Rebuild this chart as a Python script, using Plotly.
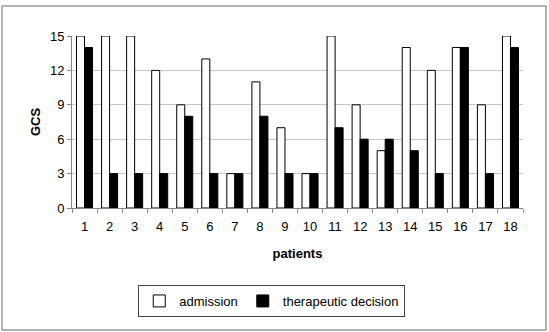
import plotly.graph_objects as go

patients = [str(i) for i in range(1, 19)]
admission = [15, 15, 15, 12, 9, 13, 3, 11, 7, 3, 15, 9, 5, 14, 12, 14, 9, 15]
therapeutic = [14, 3, 3, 3, 8, 3, 3, 8, 3, 3, 7, 6, 6, 5, 3, 14, 3, 14]

fig = go.Figure()
fig.add_trace(go.Bar(x=patients, y=admission, name="admission",
                     marker=dict(color="white", line=dict(color="black", width=1))))
fig.add_trace(go.Bar(x=patients, y=therapeutic, name="therapeutic decision",
                     marker=dict(color="black", line=dict(color="black", width=1))))

font = "Liberation Sans, Arial, sans-serif"
L, R, T, B = 72, 26, 36, 124
PW, PH = 549 - L - R, 332 - T - B
fig.update_layout(
    width=549, height=332,
    margin=dict(l=L, r=R, t=T, b=B, autoexpand=False),
    paper_bgcolor="white", plot_bgcolor="white",
    barmode="group", bargap=0.36, bargroupgap=0,
    font=dict(family=font, size=13, color="black"),
    showlegend=True,
    legend=dict(orientation="h", x=0.495, xanchor="center", xref="container",
                y=1 - 285 / 332, yanchor="top", yref="container",
                bordercolor="#444", borderwidth=1, font=dict(size=13),
                itemwidth=30, tracegroupgap=0),
    xaxis=dict(title=dict(text="<b>patients</b>", standoff=16, font=dict(size=13)),
               automargin=False,
               showline=True, linecolor="#888", linewidth=1,
               ticks="outside", tickson="boundaries", ticklen=4, tickcolor="#888",
               ticklabelstandoff=6,
               showgrid=False, tickfont=dict(size=13)),
    yaxis=dict(title=dict(text="<b>GCS</b>", standoff=6, font=dict(size=13)),
               automargin=False,
               range=[0, 15], dtick=3, showline=True, linecolor="#888", linewidth=1,
               ticks="outside", ticklen=4, tickcolor="#888",
               showgrid=True, gridcolor="#c8c8c8", gridwidth=1, zeroline=False,
               tickfont=dict(size=13)),
    shapes=[dict(type="rect", xref="paper", yref="paper",
                 x0=(2 - L) / PW, x1=(546 - L) / PW,
                 y0=(332 - B - 330) / PH, y1=(332 - B - 6) / PH,
                 line=dict(color="#999", width=1.5), fillcolor="rgba(0,0,0,0)")],
)
fig.write_html("out.html")
